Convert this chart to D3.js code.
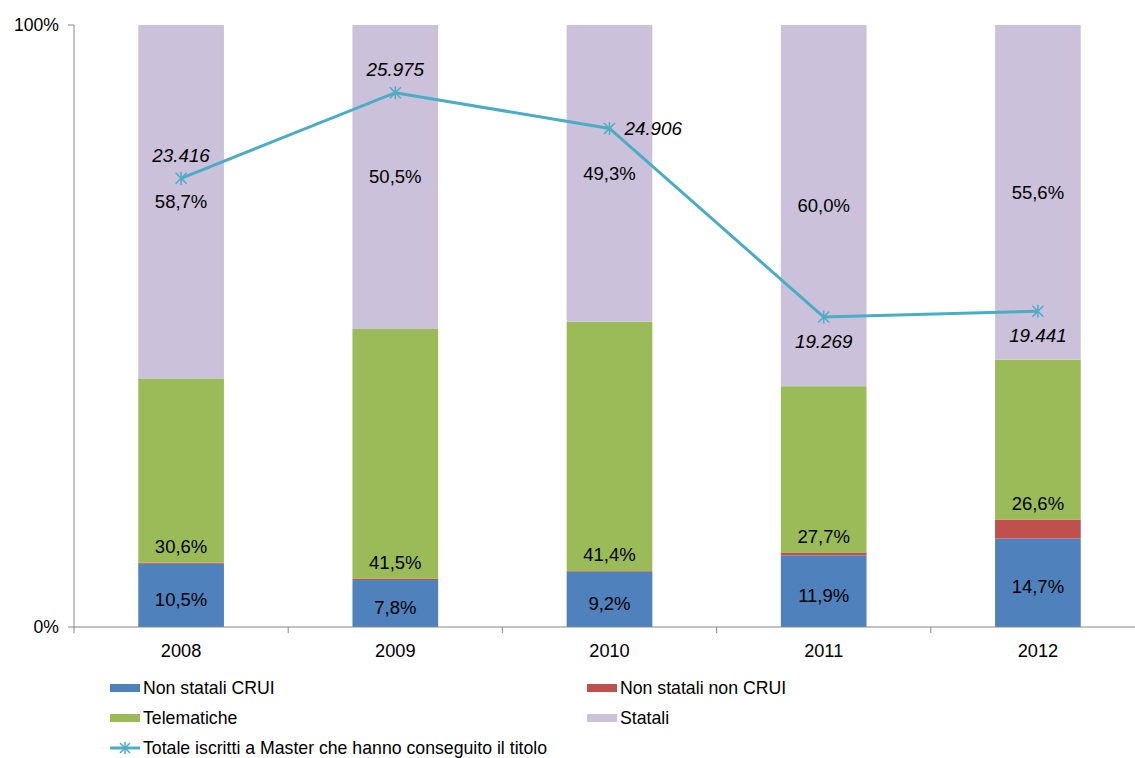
<!DOCTYPE html>
<html>
<head>
<meta charset="utf-8">
<script src="https://cdn.jsdelivr.net/npm/d3@7"></script>
<style>
  body { margin: 0; background: #fff; }
  svg text { font-family: "Liberation Sans", Arial, sans-serif; fill: #000; }
</style>
</head>
<body>
<div id="chart"></div>
<script>
// categories and series (percentages of each year)
var years = ['2008', '2009', '2010', '2011', '2012'];
var nonStataliCrui = [10.5, 7.8, 9.2, 11.9, 14.7];
var nonStataliNonCrui = [0.2, 0.2, 0.1, 0.4, 3.1];
var telematiche = [30.6, 41.5, 41.4, 27.7, 26.6];
var statali = [58.7, 50.5, 49.3, 60.0, 55.6];
// total graduates (line, secondary hidden axis)
var totale = [23416, 25975, 24906, 19269, 19441];
var totaleLabelSide = ['above', 'above', 'right', 'below', 'below'];

var seriesNames = ['Non statali CRUI', 'Non statali non CRUI', 'Telematiche', 'Statali'];
var colors = ['#4F81BD', '#C0504D', '#9BBB59', '#CCC1DA'];
var lineColor = '#4BACC6';

var itLocale = d3.formatLocale({ decimal: ',', thousands: '.', grouping: [3], currency: ['€', ''] });
var fmtPct = function(v) { return itLocale.format('.1f')(v) + '%'; };
var fmtInt = itLocale.format(',d');

var W = 1135, H = 758;
var margin = { left: 74, top: 25, right: -10, bottom: 131 };
var w = W - margin.left - margin.right;
var h = H - margin.top - margin.bottom;

var svg = d3.select('#chart').append('svg')
  .attr('width', W)
  .attr('height', H);
var g = svg.append('g')
  .attr('transform', 'translate(' + margin.left + ',' + margin.top + ')');

var x = d3.scaleBand().domain(years).range([0, w]).padding(0);
var barW = x.bandwidth() * 0.4;
var y = d3.scaleLinear().domain([0, 100]).range([h, 0]);
var y2 = d3.scaleLinear().domain([10000, 28000]).range([h, 0]);

// stacked data
var rows = years.map(function(yr, i) {
  return { year: yr, s0: nonStataliCrui[i], s1: nonStataliNonCrui[i], s2: telematiche[i], s3: statali[i] };
});
var stack = d3.stack().keys(['s0', 's1', 's2', 's3'])(rows);

var layers = g.selectAll('.layer')
  .data(stack)
  .enter().append('g')
  .attr('class', 'layer')
  .attr('fill', function(d, i) { return colors[i]; });

layers.selectAll('rect')
  .data(function(d) { return d; })
  .enter().append('rect')
  .attr('x', function(d) { return x(d.data.year) + (x.bandwidth() - barW) / 2; })
  .attr('width', barW)
  .attr('y', function(d) { return y(d[1]); })
  .attr('height', function(d) { return y(d[0]) - y(d[1]); });

// axes
g.append('line')
  .attr('x1', 0).attr('x2', 0).attr('y1', 0).attr('y2', h)
  .attr('stroke', '#868686');
g.append('line')
  .attr('x1', 0).attr('x2', w).attr('y1', h).attr('y2', h)
  .attr('stroke', '#868686');
[0, 100].forEach(function(t) {
  g.append('line')
    .attr('x1', -6).attr('x2', 0).attr('y1', y(t)).attr('y2', y(t))
    .attr('stroke', '#868686');
  g.append('text')
    .attr('x', -15).attr('y', y(t))
    .attr('dy', '0.35em')
    .attr('text-anchor', 'end')
    .style('font-size', '17.6px')
    .text(t + '%');
});
years.forEach(function(yr) {
  g.append('line')
    .attr('x1', x(yr)).attr('x2', x(yr)).attr('y1', h).attr('y2', h + 6)
    .attr('stroke', '#868686');
  g.append('text')
    .attr('x', x(yr) + x.bandwidth() / 2).attr('y', h + 24)
    .attr('dy', '0.35em')
    .attr('text-anchor', 'middle')
    .style('font-size', '18.2px')
    .text(yr);
});

// bar labels
rows.forEach(function(d) {
  var cx = x(d.year) + x.bandwidth() / 2;
  // non statali CRUI: centre
  g.append('text')
    .attr('x', cx).attr('y', y(d.s0 / 2) + 4)
    .attr('dy', '0.35em').attr('text-anchor', 'middle')
    .style('font-size', '18.5px')
    .text(fmtPct(d.s0));
  // telematiche: inside base
  var base = d.s0 + d.s1;
  g.append('text')
    .attr('x', cx).attr('y', y(base) - 16)
    .attr('dy', '0.35em').attr('text-anchor', 'middle')
    .style('font-size', '18.5px')
    .text(fmtPct(d.s2));
  // statali: centre
  var b3 = base + d.s2;
  g.append('text')
    .attr('x', cx).attr('y', y(b3 + d.s3 / 2))
    .attr('dy', '0.35em').attr('text-anchor', 'middle')
    .style('font-size', '18.5px')
    .text(fmtPct(d.s3));
});

// line
var pts = years.map(function(yr, i) {
  return { cx: x(yr) + x.bandwidth() / 2, cy: y2(totale[i]), v: totale[i], side: totaleLabelSide[i] };
});
g.append('path')
  .datum(pts)
  .attr('fill', 'none')
  .attr('stroke', lineColor)
  .attr('stroke-width', 3)
  .attr('d', d3.line().x(function(d) { return d.cx; }).y(function(d) { return d.cy; }));

function star(sel, s) {
  sel.append('path')
    .attr('d', 'M' + (-s) + ',' + (-s) + 'L' + s + ',' + s + 'M' + (-s) + ',' + s + 'L' + s + ',' + (-s) +
      'M0,' + (-s * 1.2) + 'L0,' + (s * 1.2))
    .attr('stroke', lineColor)
    .attr('stroke-width', 1.5)
    .attr('fill', 'none');
}
pts.forEach(function(p) {
  var m = g.append('g').attr('transform', 'translate(' + p.cx + ',' + p.cy + ')');
  star(m, 5.5);
  var lx = p.cx, ly = p.cy, anchor = 'middle';
  if (p.side === 'above') ly = p.cy - 23;
  if (p.side === 'below') ly = p.cy + 24;
  if (p.side === 'right') { lx = p.cx + 15; anchor = 'start'; }
  g.append('text')
    .attr('x', lx).attr('y', ly)
    .attr('dy', '0.35em').attr('text-anchor', anchor)
    .style('font-size', '18.8px')
    .style('font-style', 'italic')
    .text(fmtInt(p.v));
});

// legend
var legendItems = [
  { name: seriesNames[0], color: colors[0], lx: 110, ly: 688 },
  { name: seriesNames[1], color: colors[1], lx: 587, ly: 688 },
  { name: seriesNames[2], color: colors[2], lx: 110, ly: 718 },
  { name: seriesNames[3], color: colors[3], lx: 587, ly: 718 }
];
legendItems.forEach(function(it) {
  svg.append('rect')
    .attr('x', it.lx).attr('y', it.ly - 4)
    .attr('width', 30).attr('height', 8)
    .attr('fill', it.color);
  svg.append('text')
    .attr('x', it.lx + 33).attr('y', it.ly)
    .attr('dy', '0.35em')
    .style('font-size', '17.7px')
    .text(it.name);
});
svg.append('line')
  .attr('x1', 110).attr('x2', 140).attr('y1', 748).attr('y2', 748)
  .attr('stroke', lineColor).attr('stroke-width', 3);
star(svg.append('g').attr('transform', 'translate(125,748)'), 5);
svg.append('text')
  .attr('x', 143).attr('y', 748)
  .attr('dy', '0.35em')
  .style('font-size', '17.7px')
  .text('Totale iscritti a Master che hanno conseguito il titolo');
</script>
</body>
</html>
